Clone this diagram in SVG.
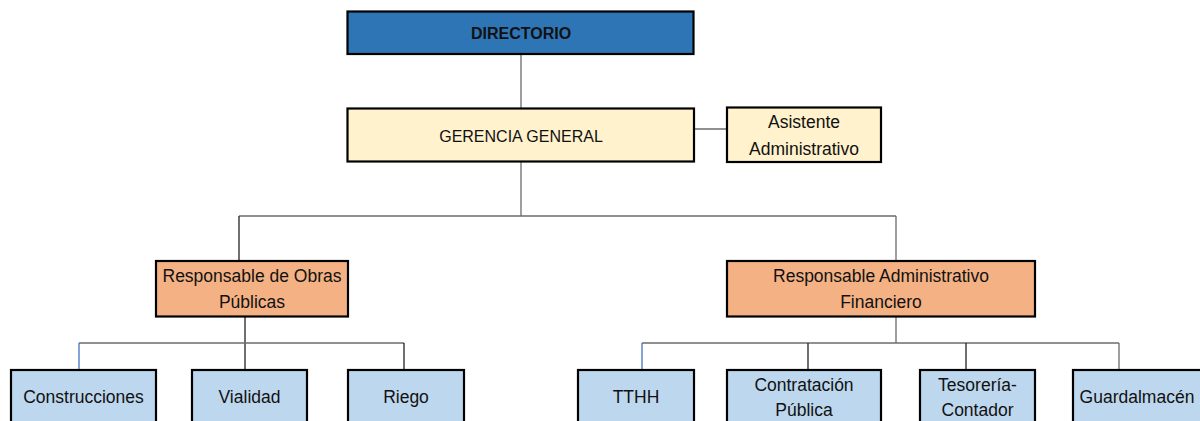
<svg xmlns="http://www.w3.org/2000/svg" width="1200" height="421" viewBox="0 0 1200 421">
<style>
.box{stroke:#000;stroke-width:2.2}
.blue{fill:#2E75B6}
.yel{fill:#FFF2CC}
.org{fill:#F4B183}
.lb{fill:#BDD7EE}
text{font-family:"Liberation Sans",Arial,sans-serif;font-size:17.5px;fill:#111;text-anchor:middle;dominant-baseline:central}
.cap{font-size:16px}
.b{font-weight:bold}
.c line{stroke:#6b6b6b;stroke-width:1.3}
.c .k{stroke:#222}
</style>
<rect width="1200" height="421" fill="#fff"/>
<g class="c" id="connectors">
<line x1="521" y1="55" x2="521" y2="108"/>
<line x1="694" y1="129" x2="727" y2="129"/>
<line x1="521" y1="162" x2="521" y2="216"/>
<line x1="239" y1="216" x2="896" y2="216"/>
<line class="k" x1="239" y1="216" x2="239" y2="261"/>
<line x1="896" y1="216" x2="896" y2="261"/>
<line class="k" x1="245" y1="317" x2="245" y2="370"/>
<line x1="79" y1="343" x2="404" y2="343"/>
<line x1="79" y1="343" x2="79" y2="370" style="stroke:#4472C4"/>
<line class="k" x1="404" y1="343" x2="404" y2="370"/>
<line x1="896" y1="317" x2="896" y2="343"/>
<line x1="642" y1="343" x2="1119" y2="343"/>
<line x1="642" y1="343" x2="642" y2="370" style="stroke:#4472C4"/>
<line class="k" x1="808" y1="343" x2="808" y2="370"/>
<line class="k" x1="966" y1="343" x2="966" y2="370"/>
<line x1="1119" y1="343" x2="1119" y2="370"/>
</g>
<g id="directorio"><rect class="box blue" x="347.5" y="11.5" width="346" height="42.5"/><text class="b cap" x="521" y="33">DIRECTORIO</text></g>
<g id="gerencia"><rect class="box yel" x="347.5" y="108.5" width="346.5" height="53"/><text class="cap" x="521" y="136">GERENCIA GENERAL</text></g>
<g id="asistente"><rect class="box yel" x="727" y="107.5" width="154" height="54.5"/><text x="804" y="122">Asistente</text><text x="804" y="149">Administrativo</text></g>
<g id="obras"><rect class="box org" x="156" y="261" width="192" height="55.5"/><text x="252" y="276">Responsable de Obras</text><text x="252" y="302">Públicas</text></g>
<g id="adm"><rect class="box org" x="727" y="261" width="308" height="55.5"/><text x="881" y="276">Responsable Administrativo</text><text x="881" y="302">Financiero</text></g>
<g id="construcciones"><rect class="box lb" x="11" y="370" width="145" height="60"/><text x="83.5" y="397">Construcciones</text></g>
<g id="vialidad"><rect class="box lb" x="192" y="370" width="115" height="60"/><text x="249.5" y="397">Vialidad</text></g>
<g id="riego"><rect class="box lb" x="348" y="370" width="116" height="60"/><text x="406" y="397">Riego</text></g>
<g id="tthh"><rect class="box lb" x="578" y="370" width="116" height="60"/><text x="636" y="397">TTHH</text></g>
<g id="contratacion"><rect class="box lb" x="727" y="370" width="154" height="60"/><text x="804" y="385">Contratación</text><text x="804" y="410">Pública</text></g>
<g id="tesoreria"><rect class="box lb" x="920" y="370" width="115" height="60"/><text x="977.5" y="385">Tesorería-</text><text x="977.5" y="410">Contador</text></g>
<g id="guardalmacen"><rect class="box lb" x="1073" y="370" width="140" height="60"/><text x="1137" y="397">Guardalmacén</text></g>
</svg>
